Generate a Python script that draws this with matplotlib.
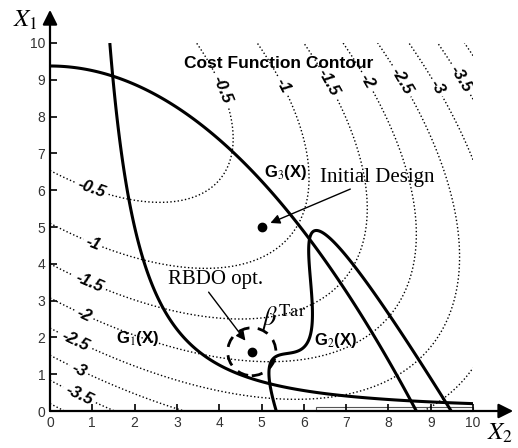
import numpy as np
import matplotlib
matplotlib.use("Agg")
import matplotlib.pyplot as plt
from matplotlib.patches import Ellipse, Rectangle

plt.rcParams['mathtext.fontset'] = 'stix'

# ---- data ----
cost_levels = [-3.5, -3.0, -2.5, -2.0, -1.5, -1.0, -0.5]
cost_extra_levels = [-4.0]
cost_label_left = [(0.95, 5.95), (0.99, 4.5), (0.9, 3.42), (0.78, 2.55), (0.59, 1.85), (0.66, 1.06), (0.64, 0.3)]
cost_label_top = [(4.02, 8.72), (5.5, 8.86), (6.55, 8.9), (7.45, 8.94), (8.27, 8.94), (9.17, 8.8), (9.69, 9.0)]
# cost: -(x+y-10)^2/30 - (x-y+10)^2/120
cost_coef = [10.0, 30.0, 120.0]
# G1: x^2 y / 20 = 1
g1_coef = [20.0]
# G2: highly nonlinear constraint, rotation coefficients
g2_coef = [0.9063, 0.4226, 6.0, 0.6]
# G3: 80/(x^2 + 8y + 5) = 1
g3_coef = [80.0, 8.0, 5.0]
initial_design = (5.0, 5.0)
rbdo_opt = (4.77, 1.61)
beta_radius = (0.57, 0.65)
xticks = list(range(0, 11))
yticks = list(range(0, 11))

# ---- figure ----
fig = plt.figure(figsize=(5.18, 4.48), dpi=100)
ax = fig.add_axes([50/518, 37/448, 423/518, 368/448])
ax.set_xlim(0, 10)
ax.set_ylim(0, 10)

h = np.linspace(0, 10, 600)
v = np.linspace(0, 10, 600)
H, V = np.meshgrid(h, v)

c0, c1, c2 = cost_coef
F = -(H + V - c0)**2 / c1 - (H - V + c0)**2 / c2
ax.contour(H, V, F, levels=cost_extra_levels, colors='k', linestyles=':', linewidths=1.0)
cs = ax.contour(H, V, F, levels=cost_levels, colors='k', linestyles=':', linewidths=1.0)
labs = ax.clabel(cs, inline=True, fmt='%g', fontsize=12,
                 manual=cost_label_left + cost_label_top, inline_spacing=2)
for t in labs:
    t.set_fontweight('bold')
    t.set_fontstyle('italic')
    t.set_fontfamily('Liberation Sans')

G1 = H**2 * V / g1_coef[0] - 1
a, b, m, q = g2_coef
Y = a * H + b * V
Z = b * H - a * V
D = Y - m
G2 = -1 + D**2 + D**3 - q * D**4 + Z
G3 = g3_coef[0] / (H**2 + g3_coef[1] * V + g3_coef[2]) - 1
for G in (G1, G2, G3):
    ax.contour(H, V, G, levels=[0], colors='k', linewidths=2.2)

# artifact box at bottom right
ax.add_patch(Rectangle((6.3, 0.0), 3.7, 0.12, fill=False, edgecolor='#555555', lw=0.8, clip_on=False))

# points
ax.plot(*initial_design, 'o', color='k', ms=6, zorder=5)
ax.plot(*rbdo_opt, 'o', color='k', ms=6, zorder=5)
ax.add_patch(Ellipse(rbdo_opt, 2*beta_radius[0], 2*beta_radius[1], fill=False,
                     edgecolor='k', lw=2.0, linestyle=(0, (4, 3))))

# arrows
ax.annotate('', xy=(5.15, 5.08), xytext=(7.16, 6.06),
            arrowprops=dict(arrowstyle='-|>', color='k', lw=1.0, mutation_scale=14))
ax.annotate('', xy=(4.66, 1.85), xytext=(3.71, 3.29),
            arrowprops=dict(arrowstyle='-|>', color='k', lw=1.0, mutation_scale=14))

# texts
serif = 'Liberation Serif'
sans = 'Liberation Sans'
ax.text(5.4, 9.45, 'Cost Function Contour', fontsize=12.5, fontweight='bold', family=sans,
        ha='center', va='center')
ax.text(6.38, 6.22, 'Initial Design', fontsize=15, family=serif, ha='left', va='baseline')
ax.text(2.78, 3.45, 'RBDO opt.', fontsize=15, family=serif, ha='left', va='baseline')
ax.text(4.98, 2.1, r'$\beta^{\mathrm{Tar}}$', fontsize=19, ha='left', va='bottom')
ax.text(5.05, 6.36, r'G$_3$(X)', fontsize=12, fontweight='bold', family=sans, ha='left', va='baseline')
ax.text(1.55, 1.85, r'G$_1$(X)', fontsize=12, fontweight='bold', family=sans, ha='left', va='baseline')
ax.text(6.25, 1.8, r'G$_2$(X)', fontsize=12, fontweight='bold', family=sans, ha='left', va='baseline')

# axes styling
for s in ('top', 'right', 'left', 'bottom'):
    ax.spines[s].set_visible(False)
ax.set_xticks(xticks)
ax.set_yticks(yticks)
ax.tick_params(direction='in', length=5, width=1.2, labelsize=10, colors='k', labelcolor='#333333')
for lbl in ax.get_xticklabels() + ax.get_yticklabels():
    lbl.set_fontfamily(sans)

ax.annotate('', xy=(0, 10.9), xytext=(0, 0), xycoords='data',
            arrowprops=dict(arrowstyle='-|>', color='k', lw=1.6, mutation_scale=22,
                            shrinkA=0, shrinkB=0), annotation_clip=False)
ax.annotate('', xy=(10.95, 0), xytext=(0, 0), xycoords='data',
            arrowprops=dict(arrowstyle='-|>', color='k', lw=1.6, mutation_scale=22,
                            shrinkA=0, shrinkB=0), annotation_clip=False)

fig.text(25/518, 1 - 20/448, r'$X_1$', fontsize=18, ha='center', va='center')
fig.text(500/518, 1 - 433/448, r'$X_2$', fontsize=18, ha='center', va='center')

fig.savefig('out.png', dpi=100)
